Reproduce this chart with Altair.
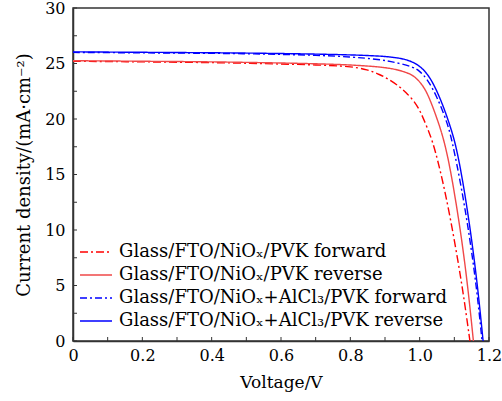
import altair as alt
import pandas as pd

series = [
    "Glass/FTO/NiOₓ/PVK forward",
    "Glass/FTO/NiOₓ/PVK reverse",
    "Glass/FTO/NiOₓ+AlCl₃/PVK forward",
    "Glass/FTO/NiOₓ+AlCl₃/PVK reverse",
]

v_red_fwd = [0, 0.1, 0.2, 0.3, 0.4, 0.5, 0.6, 0.7, 0.8, 0.85, 0.885, 0.91, 0.943, 0.96, 0.982, 1.0, 1.01, 1.03, 1.044, 1.073, 1.102, 1.125, 1.145]
j_red_fwd = [25.2, 25.18, 25.15, 25.12, 25.08, 25.03, 24.95, 24.88, 24.75, 24.45, 24.0, 23.6, 22.9, 22.4, 21.7, 20.8, 20.1, 18.6, 17.3, 13.6, 8.8, 4.5, 0]

v_red_rev = [0, 0.1, 0.2, 0.3, 0.4, 0.5, 0.6, 0.7, 0.8, 0.885, 0.93, 0.972, 0.99, 1.01, 1.025, 1.039, 1.063, 1.08, 1.097, 1.121, 1.14, 1.155]
j_red_rev = [25.25, 25.23, 25.2, 25.18, 25.15, 25.1, 25.05, 24.98, 24.88, 24.7, 24.5, 24.1, 23.7, 23.0, 22.1, 21.0, 18.9, 16.8, 14.0, 9.3, 4.6, 0]

v_blue_fwd = [0, 0.1, 0.2, 0.3, 0.4, 0.5, 0.6, 0.7, 0.8, 0.885, 0.93, 0.982, 1.0, 1.02, 1.049, 1.078, 1.092, 1.121, 1.145, 1.165, 1.18]
j_blue_fwd = [26.0, 25.98, 25.96, 25.94, 25.92, 25.88, 25.82, 25.75, 25.6, 25.37, 25.1, 24.7, 24.3, 23.7, 22.1, 19.8, 18.3, 13.8, 9.2, 4.6, 0]

v_blue_rev = [0, 0.1, 0.2, 0.3, 0.4, 0.5, 0.6, 0.7, 0.8, 0.885, 0.93, 0.972, 1.01, 1.039, 1.068, 1.092, 1.107, 1.128, 1.150, 1.168, 1.183]
j_blue_rev = [26.05, 26.03, 26.01, 25.99, 25.97, 25.94, 25.9, 25.85, 25.78, 25.68, 25.55, 25.3, 24.6, 23.3, 21.2, 19.0, 17.3, 13.8, 9.2, 4.7, 0]

x_ticks = [0, 0.1, 0.2, 0.3, 0.4, 0.5, 0.6, 0.7, 0.8, 0.9, 1.0, 1.1, 1.2]
x_labels = [0, 0.2, 0.4, 0.6, 0.8, 1.0, 1.2]
y_ticks = [0, 2.5, 5, 7.5, 10, 12.5, 15, 17.5, 20, 22.5, 25, 27.5, 30]
y_labels = [0, 5, 10, 15, 20, 25, 30]

colors = ["#ff0000", "#f04848", "#0000ff", "#0000ff"]
dashes = [[8, 3, 2, 3], [1, 0], [7, 3, 2, 3], [1, 0]]

W, H = 416, 333
FONT = "DejaVu Serif"

rows = []
for name, vs, js in zip(series, [v_red_fwd, v_red_rev, v_blue_fwd, v_blue_rev],
                        [j_red_fwd, j_red_rev, j_blue_fwd, j_blue_rev]):
    for i, (v, j) in enumerate(zip(vs, js)):
        rows.append({"series": name, "V": v, "J": j, "idx": i})
df = pd.DataFrame(rows)

xscale = alt.Scale(domain=[0, 1.2], nice=False, zero=False)
yscale = alt.Scale(domain=[0, 30], nice=False)

xaxis = alt.Axis(values=x_labels, ticks=False, grid=False,
                 labelExpr="datum.value == 0 ? '0' : format(datum.value, '.1f')",
                 labelFont=FONT, labelFontSize=16, labelColor="black", labelPadding=6,
                 titleFont=FONT, titleFontSize=17, titleFontWeight="normal", titleColor="black",
                 titlePadding=11, domainColor="#333", domainWidth=1.5, labelFlush=False)
yaxis = alt.Axis(values=y_labels, ticks=False, grid=False,
                 labelFont=FONT, labelFontSize=16, labelColor="black", labelPadding=8,
                 titleFont=FONT, titleFontSize=18, titleFontWeight="normal", titleColor="black",
                 titlePadding=11, domainColor="#333", domainWidth=1.5, labelFlush=False)
XT = "Voltage/V"
YT = "Current density/(mA·cm⁻²)"

lines = alt.Chart(df).mark_line(strokeWidth=1.4, interpolate="basis", clip=True).encode(
    x=alt.X("V:Q", scale=xscale, title=XT, axis=xaxis),
    y=alt.Y("J:Q", scale=yscale, title=YT, axis=yaxis),
    color=alt.Color("series:N", scale=alt.Scale(domain=series, range=colors), legend=None),
    strokeDash=alt.StrokeDash("series:N", scale=alt.Scale(domain=series, range=dashes), legend=None),
    order=alt.Order("idx:Q"),
)

xt = alt.Chart(pd.DataFrame({"V": x_ticks})).mark_rule(color="#333", strokeWidth=1).encode(
    x=alt.X("V:Q", scale=xscale, title=XT, axis=xaxis), y=alt.value(H), y2=alt.value(H - 4))
yt = alt.Chart(pd.DataFrame({"J": y_ticks})).mark_rule(color="#333", strokeWidth=1).encode(
    y=alt.Y("J:Q", scale=yscale, title=YT, axis=yaxis), x=alt.value(0), x2=alt.value(4))

layers = [lines, xt, yt]
for i, name in enumerate(series):
    yy = 244 + 23 * i
    sym = alt.Chart(pd.DataFrame({"s": [name]})).mark_rule(
        color=colors[i], strokeDash=dashes[i], strokeWidth=1.4).encode(
        x=alt.value(7), x2=alt.value(39), y=alt.value(yy))
    txt = alt.Chart(pd.DataFrame({"s": [name]})).mark_text(
        align="left", baseline="middle", font=FONT, fontSize=18, color="black").encode(
        text="s:N", x=alt.value(46), y=alt.value(yy))
    layers += [sym, txt]

chart = alt.layer(*layers).properties(
    width=W, height=H,
    padding={"left": 73, "top": 8, "right": 13, "bottom": 60},
    autosize=alt.AutoSizeParams(type="none"),
    background="white",
).configure_view(stroke="#333", strokeWidth=1.5)

chart.save("out.html", embed_options={"renderer": "svg", "actions": False})
